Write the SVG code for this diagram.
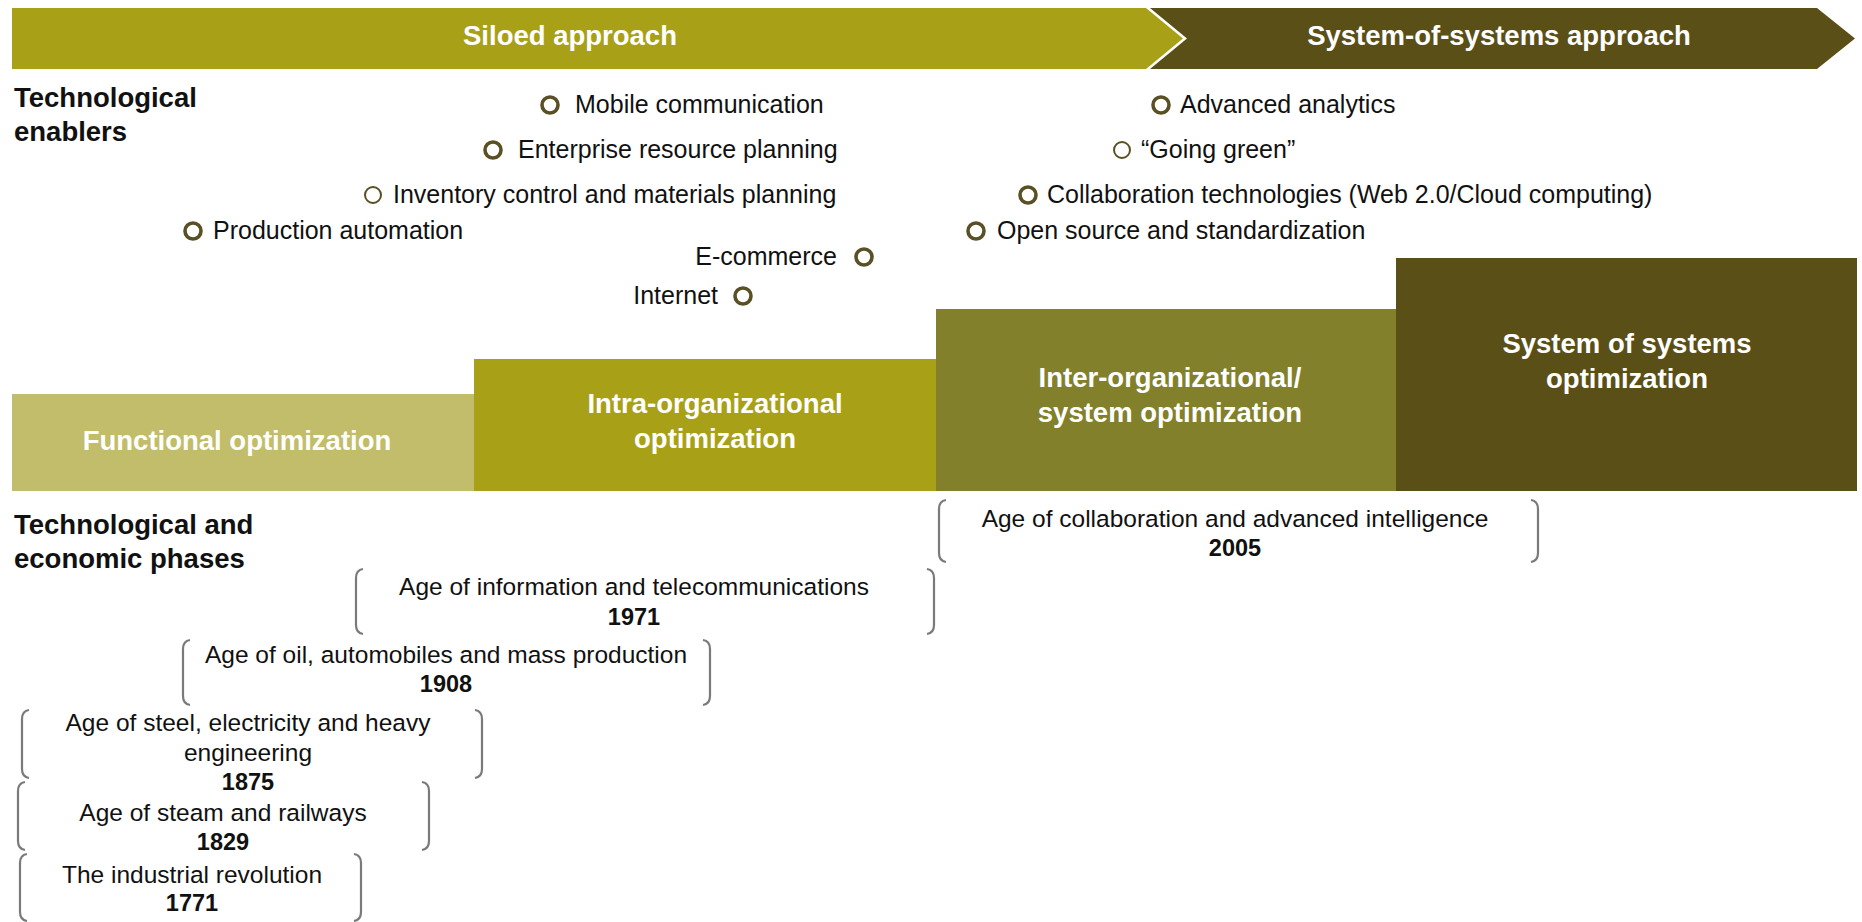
<svg xmlns="http://www.w3.org/2000/svg" width="1862" height="922" viewBox="0 0 1862 922">
<style>
text{font-family:"Liberation Sans",Arial,sans-serif;}
.reg{font-size:25px;fill:#111;}
.hdr{font-size:27.5px;font-weight:bold;fill:#111;}
.wb{font-size:27.5px;font-weight:bold;fill:#fff;text-anchor:middle;}
.ph{font-size:24.5px;fill:#111;text-anchor:middle;}
.yr{font-size:23.5px;font-weight:bold;fill:#111;text-anchor:middle;}
.dot{fill:none;stroke:#5a5026;stroke-width:3.6;}
.dot-thin{fill:none;stroke:#5a5026;stroke-width:2;}
.br{fill:none;stroke:#7a7a7a;stroke-width:2.2;}
</style>
<rect width="1862" height="922" fill="#fff"/>

<g id="banner-siloed">
<polygon points="12,8 1146,8 1183,38.5 1146,69 12,69" fill="#a8a118"/>
<text class="wb" x="570" y="45">Siloed approach</text>
</g>
<g id="banner-sos">
<polygon points="1150,8 1817,8 1855,38.5 1817,69 1150,69 1187,38.5" fill="#5a4f17"/>
<text class="wb" x="1499" y="45">System-of-systems approach</text>
</g>

<g id="header-enablers">
<text class="hdr" x="14" y="107">Technological</text>
<text class="hdr" x="14" y="141">enablers</text>
</g>

<g id="enablers">
<g id="en-mobile"><circle class="dot" cx="550" cy="105" r="8"/><text class="reg" x="575" y="113">Mobile communication</text></g>
<g id="en-erp"><circle class="dot" cx="493" cy="150" r="8"/><text class="reg" x="518" y="158">Enterprise resource planning</text></g>
<g id="en-inventory"><circle class="dot-thin" cx="373" cy="195" r="8"/><text class="reg" x="393" y="203">Inventory control and materials planning</text></g>
<g id="en-production"><circle class="dot" cx="193" cy="231" r="8"/><text class="reg" x="213" y="239">Production automation</text></g>
<g id="en-ecommerce"><text class="reg" x="837" y="265" text-anchor="end">E-commerce</text><circle class="dot" cx="864" cy="257" r="8"/></g>
<g id="en-internet"><text class="reg" x="718" y="304" text-anchor="end">Internet</text><circle class="dot" cx="743" cy="296" r="8"/></g>
<g id="en-analytics"><circle class="dot" cx="1161" cy="105" r="8"/><text class="reg" x="1180" y="113">Advanced analytics</text></g>
<g id="en-green"><circle class="dot-thin" cx="1122" cy="150" r="8"/><text class="reg" x="1141" y="158">“Going green”</text></g>
<g id="en-collab"><circle class="dot" cx="1028" cy="195" r="8"/><text class="reg" x="1047" y="203">Collaboration technologies (Web 2.0/Cloud computing)</text></g>
<g id="en-open"><circle class="dot" cx="976" cy="231" r="8"/><text class="reg" x="997" y="239">Open source and standardization</text></g>
</g>

<g id="step-functional">
<rect x="12" y="394" width="463" height="97" fill="#c2bd6a"/>
<text class="wb" x="237" y="450">Functional optimization</text>
</g>
<g id="step-intra">
<rect x="474" y="359" width="463" height="132" fill="#a8a118"/>
<text class="wb" x="715" y="413">Intra-organizational</text>
<text class="wb" x="715" y="448">optimization</text>
</g>
<g id="step-inter">
<rect x="936" y="309" width="461" height="182" fill="#82802b"/>
<text class="wb" x="1170" y="387">Inter-organizational/</text>
<text class="wb" x="1170" y="422">system optimization</text>
</g>
<g id="step-sos">
<rect x="1396" y="258" width="461" height="233" fill="#5a4f17"/>
<text class="wb" x="1627" y="353">System of systems</text>
<text class="wb" x="1627" y="388">optimization</text>
</g>

<g id="header-phases">
<text class="hdr" x="14" y="534">Technological and</text>
<text class="hdr" x="14" y="568">economic phases</text>
</g>

<g id="phases">
<g id="ph-2005">
<path class="br" d="M946,500 Q939,501 939,509 V553 Q939,561 946,562"/>
<path class="br" d="M1531,500 Q1538,501 1538,509 V553 Q1538,561 1531,562"/>
<text class="ph" x="1235" y="527">Age of collaboration and advanced intelligence</text>
<text class="yr" x="1235" y="556">2005</text>
</g>
<g id="ph-1971">
<path class="br" d="M363,569 Q356,570 356,578 V625 Q356,633 363,634"/>
<path class="br" d="M927,569 Q934,570 934,578 V625 Q934,633 927,634"/>
<text class="ph" x="634" y="595">Age of information and telecommunications</text>
<text class="yr" x="634" y="625">1971</text>
</g>
<g id="ph-1908">
<path class="br" d="M190,640 Q183,641 183,649 V696 Q183,704 190,705"/>
<path class="br" d="M703,640 Q710,641 710,649 V696 Q710,704 703,705"/>
<text class="ph" x="446" y="663">Age of oil, automobiles and mass production</text>
<text class="yr" x="446" y="692">1908</text>
</g>
<g id="ph-1875">
<path class="br" d="M29,710 Q22,711 22,719 V769 Q22,777 29,778"/>
<path class="br" d="M475,710 Q482,711 482,719 V769 Q482,777 475,778"/>
<text class="ph" x="248" y="731">Age of steel, electricity and heavy</text>
<text class="ph" x="248" y="761">engineering</text>
<text class="yr" x="248" y="790">1875</text>
</g>
<g id="ph-1829">
<path class="br" d="M25,782 Q18,783 18,791 V841 Q18,849 25,850"/>
<path class="br" d="M422,782 Q429,783 429,791 V841 Q429,849 422,850"/>
<text class="ph" x="223" y="821">Age of steam and railways</text>
<text class="yr" x="223" y="850">1829</text>
</g>
<g id="ph-1771">
<path class="br" d="M27,854 Q20,855 20,863 V912 Q20,920 27,921"/>
<path class="br" d="M354,854 Q361,855 361,863 V912 Q361,920 354,921"/>
<text class="ph" x="192" y="883">The industrial revolution</text>
<text class="yr" x="192" y="911">1771</text>
</g>
</g>
</svg>
